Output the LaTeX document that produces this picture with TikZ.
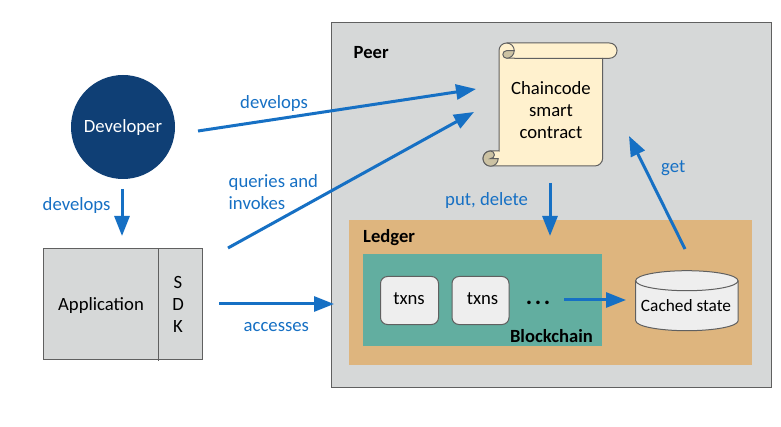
\documentclass[tikz,border=0pt]{standalone}
\usepackage{fontspec}
\setmainfont{Carlito}
\usetikzlibrary{arrows.meta}
\definecolor{flow}{HTML}{1670C4}
\definecolor{linegray}{HTML}{606060}
\definecolor{panel}{HTML}{D6D8D8}
\definecolor{ledgerfill}{HTML}{DEB57E}
\definecolor{chainfill}{HTML}{62AEA0}
\definecolor{txnfill}{HTML}{EEEEEE}
\definecolor{devfill}{HTML}{0F3F75}
\definecolor{scrollfill}{HTML}{FFF1CE}
\definecolor{curlfill}{HTML}{CCC2A3}
\tikzset{
  fs/.style={font=\fontsize{18.7}{22}\selectfont},
  plain/.style={fs,inner sep=0pt,text=black},
  title/.style={inner sep=0pt,text=black,font=\fontsize{18.6}{22}\selectfont\bfseries},
  bluelabel/.style={fs,inner sep=0pt,text=flow,align=left},
  panelbox/.style={draw=linegray,line width=1pt,fill=panel,inner sep=0pt},
  flatbox/.style={inner sep=0pt},
  txnbox/.style={draw=linegray,line width=1pt,fill=txnfill,rounded corners=7pt,inner sep=0pt,minimum width=58pt,minimum height=48pt,fs},
  flowarrow/.style={draw=flow,line width=3pt,-{Triangle[length=20pt,width=15pt]}},
  outline/.style={draw=linegray,line width=1pt}
}
\begin{document}
\begin{tikzpicture}[x=1pt,y=-1pt]
\useasboundingbox (0,0) rectangle (781,427);
\fill[white] (0,0) rectangle (781,427);
% containers
\node[panelbox,minimum width=440pt,minimum height=364pt] (peer) at (551,205) {};
\node[title,anchor=west] (peerlabel) at (353.5,53) {Peer};
\node[flatbox,fill=ledgerfill,minimum width=403pt,minimum height=145pt] (ledger) at (550.5,292.5) {};
\node[title,anchor=west] (ledgerlabel) at (363,238) {Ledger};
\node[flatbox,fill=chainfill,minimum width=239pt,minimum height=92pt] (chain) at (482.5,300) {};
\node[title,anchor=east] (chainlabel) at (593,336) {Blockchain};
\node[txnbox] (txa) at (409.5,300.5) {};
\node[plain] (txalabel) at (409,299) {txns};
\node[txnbox,minimum width=57pt] (txb) at (480.5,300.5) {};
\node[plain] (txblabel) at (482.5,299) {txns};
\node[inner sep=0pt,text=black,font=\fontsize{24}{24}\selectfont\bfseries] (dots) at (538,303) {.\hspace{2.6pt}.\hspace{2.6pt}.};
% cylinder
\path[fill=txnfill,outline] (635.7,280.7) -- (635.7,320.7) arc[start angle=180,end angle=0,x radius=51.2,y radius=10] -- (738,280.7) arc[start angle=0,end angle=-180,x radius=51.2,y radius=10] -- cycle;
\path[outline] (635.7,280.7) arc[start angle=180,end angle=0,x radius=51.2,y radius=10];
\node[inner sep=0pt,text=black,font=\fontsize{17.3}{20}\selectfont] (cached) at (686,306) {Cached state};
% scroll body
\path[fill=scrollfill,outline] (499,151) -- (499,50.6) arc[start angle=180,end angle=270,radius=7.6] -- (609.4,43) arc[start angle=270,end angle=450,radius=7.65] -- (602.7,58.3) -- (602.7,158) arc[start angle=0,end angle=90,radius=8] -- (490.6,166) arc[start angle=90,end angle=270,radius=7.6] -- cycle;
\path[outline] (506.6,58.25) -- (602.7,58.3);
% top curl
\path[outline] (506.6,43) arc[start angle=-90,end angle=0,radius=7.65];
\path[fill=curlfill,outline] (514.25,50.6) arc[start angle=0,end angle=90,radius=7.65] arc[start angle=90,end angle=180,radius=3.8] arc[start angle=180,end angle=270,radius=3.8] -- cycle;
% bottom curl
\path[fill=curlfill,outline] (490.6,151) arc[start angle=270,end angle=90,radius=7.6] arc[start angle=90,end angle=0,radius=7.6] -- (490.6,158.6) arc[start angle=90,end angle=-90,radius=3.8] -- cycle;
\node[plain,align=center] (contract) at (551,110) {Chaincode\\[0pt]smart\\[0pt]contract};
% developer and application
\node[circle,fill=devfill,minimum size=104pt,inner sep=0pt,text=white,fs] (dev) at (123,127) {\raisebox{-6pt}[0pt][0pt]{Developer}};
\node[panelbox,minimum width=159.4pt,minimum height=111pt] (app) at (123,303.8) {};
\node[plain] (applabel) at (101,305.5) {Application};
\coordinate (sdkt) at (158.3,248.3);
\coordinate (sdkb) at (158.3,360.5);
\draw[outline] (sdkt) -- (sdkb);
\node[plain,align=center] (sdk) at (178,304) {S\\[0pt]D\\[0pt]K};
% free connector ends
\coordinate (a1s) at (198,131); \coordinate (a1e) at (476,89);
\coordinate (a2s) at (228,248); \coordinate (a2e) at (474,112);
\coordinate (a3s) at (122,189); \coordinate (a3e) at (122,236);
\coordinate (a4s) at (219,304); \coordinate (a4e) at (334,304);
\coordinate (a5s) at (550,183); \coordinate (a5e) at (550,236);
\coordinate (a6s) at (685,249); \coordinate (a6e) at (629,136);
\coordinate (a7s) at (564,300); \coordinate (a7e) at (626,300);
\draw[flowarrow] (a1s) -- (a1e);
\draw[flowarrow] (a2s) -- (a2e);
\draw[flowarrow] (a3s) -- (a3e);
\draw[flowarrow] (a4s) -- (a4e);
\draw[flowarrow] (a5s) -- (a5e);
\draw[flowarrow] (a6s) -- (a6e);
\draw[flowarrow] (a7s) -- (a7e);
% labels
\node[bluelabel,anchor=west] (l1) at (240,103.5) {develops};
\node[bluelabel,anchor=west] (l2) at (42.5,205.5) {develops};
\node[bluelabel,anchor=west] (l3) at (228.5,192) {queries and\\[0pt]invokes};
\node[bluelabel,anchor=west] (l4) at (243.5,327.5) {accesses};
\node[bluelabel,anchor=west] (l5) at (445,200.5) {put, delete};
\node[bluelabel,anchor=west] (l6) at (661,168.5) {get};
\end{tikzpicture}
\end{document}
